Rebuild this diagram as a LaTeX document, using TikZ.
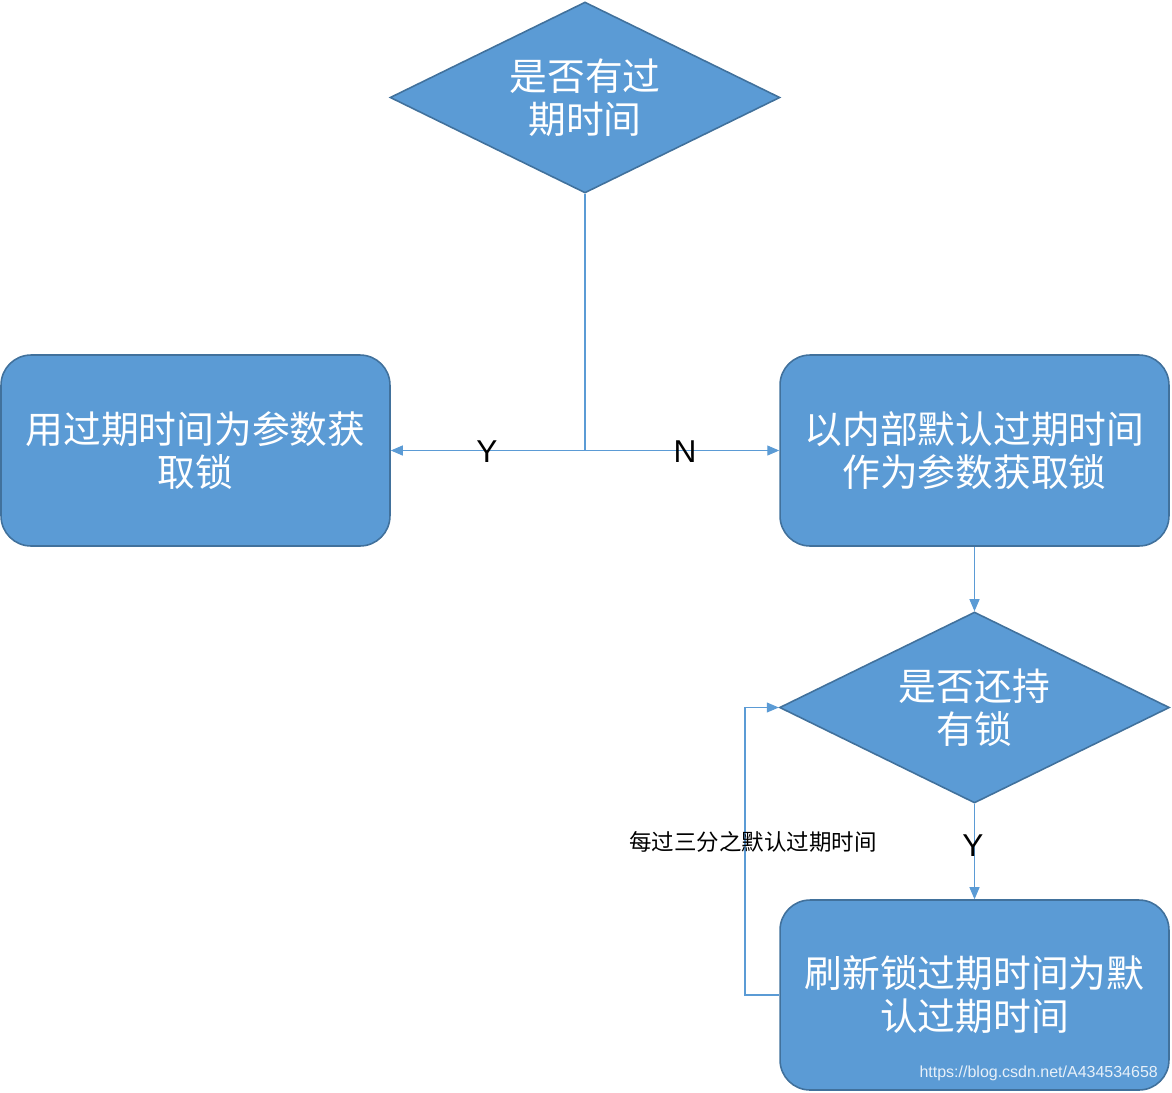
\documentclass[tikz,border=0pt]{standalone}
\usepackage{fontspec}
\setmainfont{Liberation Sans}
\newfontfamily\cjk{Noto Sans CJK SC}
\usetikzlibrary{shapes.geometric,arrows.meta}
\definecolor{boxfill}{HTML}{5B9BD5}
\definecolor{boxline}{HTML}{41719C}
\definecolor{linkc}{HTML}{5B9BD5}
\tikzset{
  flowbox/.style={draw=boxline, fill=boxfill, line width=0.9pt, rounded corners=0.6cm,
    minimum width=7.78cm, minimum height=3.82cm, align=center, text=white,
    font=\cjk\fontsize{21.5}{24.5}\selectfont, inner sep=2pt},
  decide/.style={diamond, draw=boxline, fill=boxfill, line width=0.9pt, shape aspect=2,
    minimum width=7.8cm, minimum height=3.82cm, align=center, text=white,
    font=\cjk\fontsize{21.5}{24.5}\selectfont, inner sep=0pt},
  link/.style={draw=linkc, line width=0.6pt},
  arr/.style={link, -{Triangle[length=0.24cm,width=0.2cm]}},
  yn/.style={font=\fontsize{18}{20}\selectfont, text=black},
}
\begin{document}
\begin{tikzpicture}[x=0.02cm,y=-0.02cm]
\useasboundingbox (0,0) rectangle (1172,1092);
\node[decide] (d1) at (585,97.5) {是否有过\\期时间};
\node[flowbox] (b1) at (195.5,450.5) {用过期时间为参数获\\取锁};
\node[flowbox] (b2) at (974.5,450.5) {以内部默认过期时间\\作为参数获取锁};
\node[decide] (d2) at (974.5,707.5) {是否还持\\有锁};
\node[flowbox, minimum height=3.8cm] (b3) at (974.5,995) {刷新锁过期时间为默\\认过期时间};
\coordinate (j) at (585,450.5);
\coordinate (lp) at (745,995);
\draw[link] (d1.south) -- (j);
\draw[arr] (j) -- (b1.east);
\draw[arr] (j) -- (b2.west);
\node[yn] (ly) at (487,452) {Y};
\node[yn] (ln) at (685,452) {N};
\draw[arr] (b2.south) -- (d2.north);
\draw[arr] (d2.south) -- (b3.north);
\node[yn] (ly2) at (973,846) {Y};
\draw[arr] (b3.west) -- (lp) |- (d2.west);
\node[font=\cjk\fontsize{12.8}{14}\selectfont, text=black] (lt) at (753,842) {每过三分之默认过期时间};
\node[font=\fontsize{9.1}{11}\selectfont, text=white!85!boxfill, anchor=east] (wm) at (1164,1073) {https://blog.csdn.net/A434534658};
\end{tikzpicture}
\end{document}
